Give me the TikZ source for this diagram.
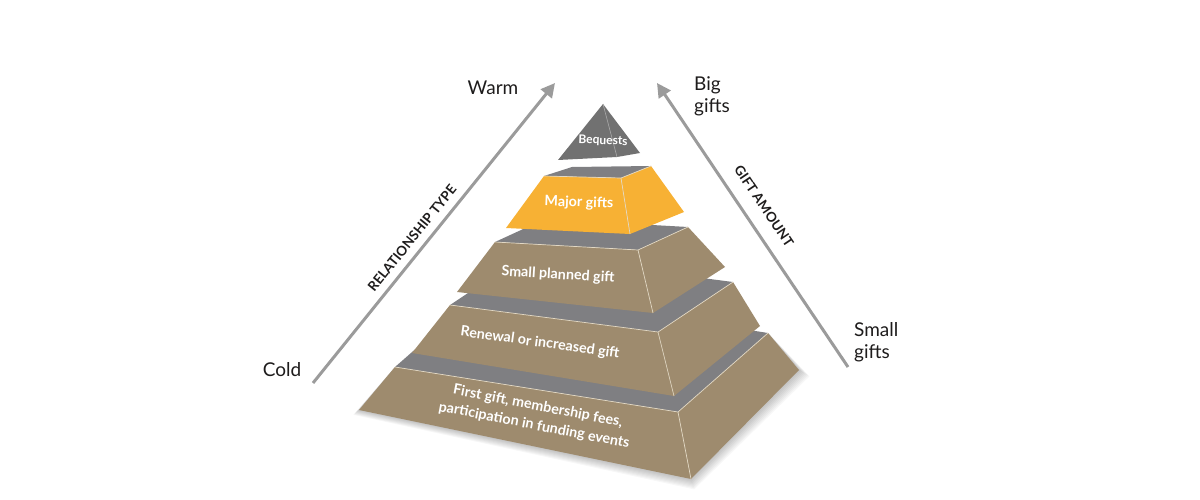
\documentclass[tikz,border=0pt]{standalone}
\usepackage{fontspec}
\setmainfont{Lato}
\usetikzlibrary{arrows.meta,calc}
\definecolor{tanc}{RGB}{158,139,110}
\definecolor{topg}{RGB}{127,127,130}
\definecolor{orangec}{RGB}{247,177,52}
\definecolor{beqg}{RGB}{113,113,113}
\definecolor{arrg}{RGB}{155,155,155}
\definecolor{ridgec}{RGB}{226,216,196}
\definecolor{txtc}{RGB}{30,28,28}
\newcommand\drawtier[2]{%
  \fill[topg] (#1FL) -- (#1FR) -- (#1BR) -- (#1BL) -- cycle;
  \fill[#2] (#1FL) -- (#1FR) -- (#1FRb) -- (#1FLb) -- cycle;
  \fill[#2] (#1FR) -- (#1BR) -- (#1BRb) -- (#1FRb) -- cycle;
  \draw[ridge] (#1FL) -- (#1FR) -- (#1BR) (#1FR) -- (#1FRb);}
\begin{document}
\begin{tikzpicture}[x=1pt,y=-1pt,
  ridge/.style={draw=ridgec,line width=0.7pt,line join=round},
  axisarrow/.style={draw=arrg,line width=3pt,-{Triangle[length=14pt,width=14pt]}},
  endlabel/.style={font=\fontsize{19}{22}\selectfont,text=txtc,inner sep=0pt},
  axislabel/.style={font=\bfseries\fontsize{13.5}{15}\selectfont,text=txtc,inner sep=0pt},
  tiertext/.style={font=\bfseries\fontsize{14.3}{19.5}\selectfont,text=white,inner sep=0pt,align=center}]
\useasboundingbox (0,0) rectangle (1200,500);
% tier coordinates
\coordinate (aFL) at (395,367); \coordinate (aFR) at (678,412); \coordinate (aBR) at (768,333); \coordinate (aBL) at (485,288);
\coordinate (aFLb) at (359,410); \coordinate (aFRb) at (691,479); \coordinate (aBRb) at (799,370);
\coordinate (bFL) at (450,305); \coordinate (bFR) at (658,332); \coordinate (bBR) at (733,282); \coordinate (bBL) at (525,255);
\coordinate (bFLb) at (412,353); \coordinate (bFRb) at (674,396); \coordinate (bBRb) at (760,326);
\coordinate (cFL) at (495,242); \coordinate (cFR) at (638,250); \coordinate (cBR) at (688,227); \coordinate (cBL) at (545,219);
\coordinate (cFLb) at (457,292); \coordinate (cFRb) at (653,313); \coordinate (cBRb) at (725,267);
\coordinate (dFL) at (544,176); \coordinate (dFR) at (621,178); \coordinate (dBR) at (651,166); \coordinate (dBL) at (572,167);
\coordinate (dFLb) at (506,228); \coordinate (dFRb) at (630,234); \coordinate (dBRb) at (684,212);
% shadow
\foreach \d in {1,...,8}{
  \fill[black,opacity=0.03] ($(aFLb)+(-0.7*\d,0.6*\d)$) -- ($(aFRb)+(0.4*\d,1.3*\d)$) -- ($(aBRb)+(1.3*\d,0.8*\d)$) -- (aBR) -- (aFL) -- cycle;}
% tiers
\drawtier{a}{tanc}
\drawtier{b}{tanc}
\drawtier{c}{tanc}
\drawtier{d}{orangec}
% bequests
\coordinate (eA) at (603,104); \coordinate (eL) at (558,160); \coordinate (eM) at (617,157); \coordinate (eR) at (640,153);
\fill[beqg] (eA) -- (eL) -- (eM) -- (eR) -- cycle;
\draw[draw=beqg!60!white,line width=0.6pt] (eA) -- (eM);
% tier texts
\node[tiertext,rotate=-11] (t1) at (536,416) {First gift, membership fees,\\participation in funding events};
\node[tiertext,rotate=-8] (t2) at (540,343) {Renewal or increased gift};
\node[tiertext,rotate=-3.5] (t3) at (558,275) {Small planned gift};
\node[tiertext,rotate=-2] (t4) at (579,203) {Major gifts};
\node[tiertext,rotate=-2,font=\bfseries\fontsize{12}{14}\selectfont] (t5) at (603,141) {Bequests};
% axes
\coordinate (coldpt) at (313,383); \coordinate (warmpt) at (555,83);
\coordinate (smallpt) at (848,367); \coordinate (bigpt) at (657,83);
\draw[axisarrow] (coldpt) -- (warmpt);
\draw[axisarrow] (smallpt) -- (bigpt);
\node[axislabel,rotate=51] (rel) at (412,238) {RELATIONSHIP TYPE};
\node[axislabel,rotate=-56] (amt) at (764,206) {GIFT AMOUNT};
\node[endlabel] (warm) at (493,88) {Warm};
\node[endlabel] (cold) at (282,370) {Cold};
\node[endlabel,align=left,anchor=west] (big) at (694,96) {Big\\gifts};
\node[endlabel,align=left,anchor=west] (small) at (854,342) {Small\\gifts};
\end{tikzpicture}
\end{document}
